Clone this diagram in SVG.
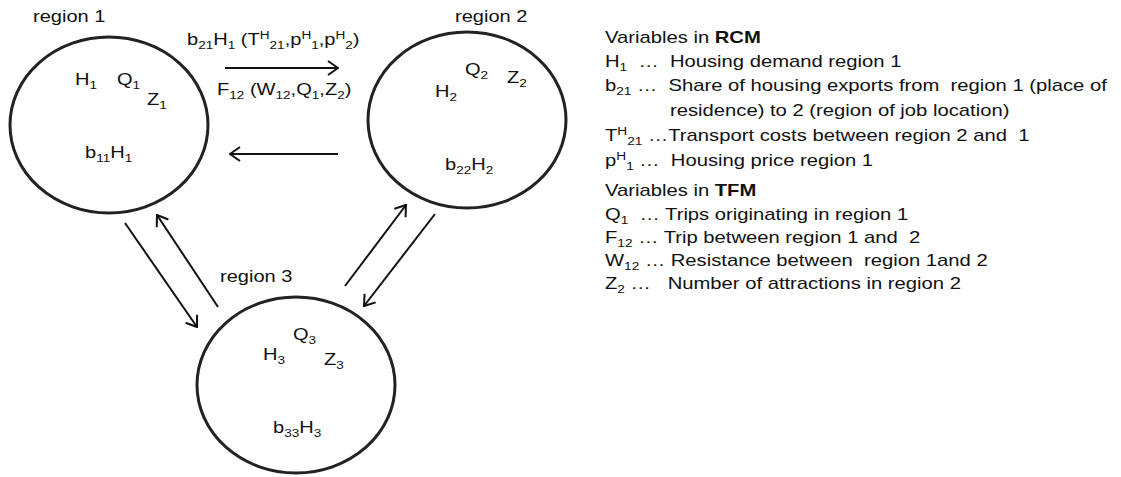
<svg xmlns="http://www.w3.org/2000/svg" width="1121" height="477" viewBox="0 0 1121 477">
<defs>
<style>
text{font-family:"Liberation Sans",Arial,sans-serif;font-size:17px;fill:#111}
.ell{fill:none;stroke:#222;stroke-width:3}
.con{stroke:#111;stroke-width:2;fill:none;marker-end:url(#ah)}
.s{font-size:11.5px}
.b{font-weight:bold}
</style>
<marker id="ah" viewBox="0 0 12 16" refX="11" refY="8" markerWidth="12" markerHeight="16" markerUnits="userSpaceOnUse" orient="auto">
<path d="M1,1 L11,8 L1,15" fill="none" stroke="#111" stroke-width="2"/>
</marker>
</defs>
<rect width="1121" height="477" fill="#fff"/>
<g id="region1">
<ellipse class="ell" cx="109" cy="125" rx="99" ry="88"/>
<text transform="translate(33,22) scale(1.18,1)">region 1</text>
<text transform="translate(75,85) scale(1.18,1)">H<tspan class="s" dy="4">1</tspan></text>
<text transform="translate(117,85) scale(1.18,1)">Q<tspan class="s" dy="4">1</tspan></text>
<text transform="translate(147,105) scale(1.18,1)">Z<tspan class="s" dy="4">1</tspan></text>
<text transform="translate(85,158) scale(1.18,1)">b<tspan class="s" dy="4">11</tspan><tspan dy="-4">H</tspan><tspan class="s" dy="4">1</tspan></text>
</g>
<g id="region2">
<ellipse class="ell" cx="467" cy="120" rx="99" ry="88"/>
<text transform="translate(455,22) scale(1.18,1)">region 2</text>
<text transform="translate(465,75) scale(1.18,1)">Q<tspan class="s" dy="4">2</tspan></text>
<text transform="translate(507,83) scale(1.18,1)">Z<tspan class="s" dy="4">2</tspan></text>
<text transform="translate(435,97) scale(1.18,1)">H<tspan class="s" dy="4">2</tspan></text>
<text transform="translate(445,170) scale(1.18,1)">b<tspan class="s" dy="4">22</tspan><tspan dy="-4">H</tspan><tspan class="s" dy="4">2</tspan></text>
</g>
<g id="region3">
<ellipse class="ell" cx="296" cy="385" rx="99" ry="88"/>
<text transform="translate(220,282) scale(1.18,1)">region 3</text>
<text transform="translate(293,340) scale(1.18,1)">Q<tspan class="s" dy="4">3</tspan></text>
<text transform="translate(263,360) scale(1.18,1)">H<tspan class="s" dy="4">3</tspan></text>
<text transform="translate(324,365) scale(1.18,1)">Z<tspan class="s" dy="4">3</tspan></text>
<text transform="translate(273,433) scale(1.18,1)">b<tspan class="s" dy="4">33</tspan><tspan dy="-4">H</tspan><tspan class="s" dy="4">3</tspan></text>
</g>
<g id="connectors">
<line class="con" x1="225" y1="68" x2="338" y2="68"/>
<line class="con" x1="338" y1="154" x2="230" y2="154"/>
<line class="con" x1="125" y1="223" x2="197" y2="327"/>
<line class="con" x1="218" y1="307" x2="157" y2="215"/>
<line class="con" x1="345" y1="286" x2="406" y2="205"/>
<line class="con" x1="435" y1="214" x2="364" y2="306"/>
</g>
<g id="flow-labels">
<text transform="translate(187,45) scale(1.18,1)">b<tspan class="s" dy="4">21</tspan><tspan dy="-4">H</tspan><tspan class="s" dy="4">1</tspan><tspan dy="-4"> (T</tspan><tspan class="s" dy="-6">H</tspan><tspan class="s" dy="10">21</tspan><tspan dy="-4">,p</tspan><tspan class="s" dy="-6">H</tspan><tspan class="s" dy="10">1</tspan><tspan dy="-4">,p</tspan><tspan class="s" dy="-6">H</tspan><tspan class="s" dy="10">2</tspan><tspan dy="-4">)</tspan></text>
<text transform="translate(217,95) scale(1.18,1)">F<tspan class="s" dy="4">12</tspan><tspan dy="-4"> (W</tspan><tspan class="s" dy="4">12</tspan><tspan dy="-4">,Q</tspan><tspan class="s" dy="4">1</tspan><tspan dy="-4">,Z</tspan><tspan class="s" dy="4">2</tspan><tspan dy="-4">)</tspan></text>
</g>
<g id="legend">
<text transform="translate(605,43) scale(1.19,1)">Variables in <tspan class="b">RCM</tspan></text>
<text xml:space="preserve" transform="translate(605,67) scale(1.19,1)">H<tspan class="s" dy="4">1</tspan><tspan dy="-4">  …  Housing demand region 1</tspan></text>
<text xml:space="preserve" transform="translate(605,91) scale(1.19,1)">b<tspan class="s" dy="4">21</tspan><tspan dy="-4"> …  Share of housing exports from  region 1 (place of</tspan></text>
<text transform="translate(670,116) scale(1.19,1)">residence) to 2 (region of job location)</text>
<text xml:space="preserve" transform="translate(605,141) scale(1.19,1)">T<tspan class="s" dy="-6">H</tspan><tspan class="s" dy="10">21</tspan><tspan dy="-4"> …Transport costs between region 2 and  1</tspan></text>
<text xml:space="preserve" transform="translate(605,166) scale(1.19,1)">p<tspan class="s" dy="-6">H</tspan><tspan class="s" dy="10">1</tspan><tspan dy="-4"> …  Housing price region 1</tspan></text>
<text transform="translate(605,196) scale(1.19,1)">Variables in <tspan class="b">TFM</tspan></text>
<text xml:space="preserve" transform="translate(605,220) scale(1.19,1)">Q<tspan class="s" dy="4">1</tspan><tspan dy="-4">  … Trips originating in region 1</tspan></text>
<text xml:space="preserve" transform="translate(605,243) scale(1.19,1)">F<tspan class="s" dy="4">12</tspan><tspan dy="-4"> … Trip between region 1 and  2</tspan></text>
<text xml:space="preserve" transform="translate(605,266) scale(1.19,1)">W<tspan class="s" dy="4">12</tspan><tspan dy="-4"> … Resistance between  region 1and 2</tspan></text>
<text xml:space="preserve" transform="translate(605,289) scale(1.19,1)">Z<tspan class="s" dy="4">2</tspan><tspan dy="-4"> …   Number of attractions in region 2</tspan></text>
</g>
</svg>
